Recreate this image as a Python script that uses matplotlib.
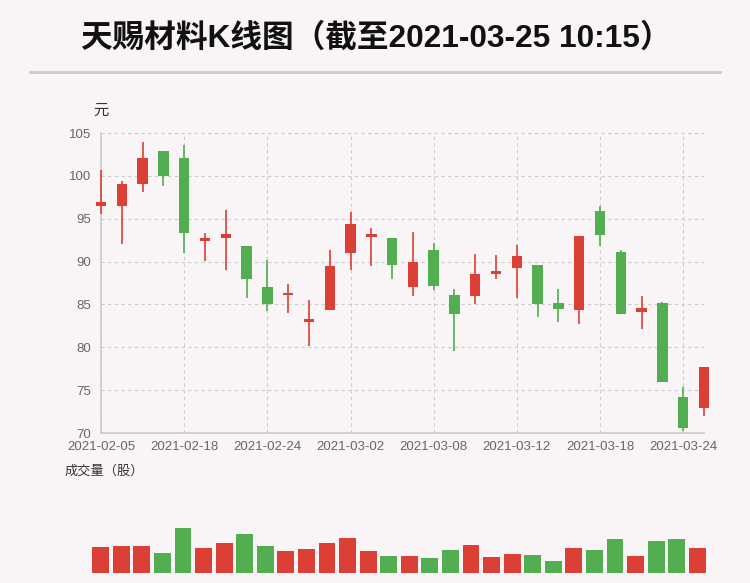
import matplotlib
matplotlib.use('Agg')
import matplotlib.pyplot as plt
import numpy as np

# trading days shown on the chart
dates = ['2021-02-05', '2021-02-08', '2021-02-09', '2021-02-10', '2021-02-18',
         '2021-02-19', '2021-02-22', '2021-02-23', '2021-02-24', '2021-02-25',
         '2021-02-26', '2021-03-01', '2021-03-02', '2021-03-03', '2021-03-04',
         '2021-03-05', '2021-03-08', '2021-03-09', '2021-03-10', '2021-03-11',
         '2021-03-12', '2021-03-15', '2021-03-16', '2021-03-17', '2021-03-18',
         '2021-03-19', '2021-03-22', '2021-03-23', '2021-03-24', '2021-03-25']

opens = [96.5, 96.5, 99.0, 102.9, 102.1, 92.45, 92.7, 91.8, 87.0, 86.05,
         83.0, 84.3, 91.0, 92.9, 92.7, 87.0, 91.3, 86.1, 86.0, 88.6,
         89.2, 89.6, 85.2, 84.4, 95.9, 91.1, 84.1, 85.2, 74.2, 72.9]
closes = [97.0, 99.1, 102.1, 100.0, 93.3, 92.8, 93.2, 88.0, 85.0, 86.3,
          83.25, 89.5, 94.4, 93.1, 89.65, 90.0, 87.2, 83.9, 88.6, 88.9,
          90.65, 85.0, 84.5, 93.0, 93.15, 83.9, 84.55, 76.0, 70.6, 77.75]
highs = [100.7, 99.35, 103.9, 102.9, 103.6, 93.35, 96.0, 91.8, 90.2, 87.4,
         85.5, 91.3, 95.8, 93.9, 92.7, 93.5, 92.2, 86.8, 90.9, 90.8,
         91.9, 89.6, 86.8, 93.0, 96.5, 91.4, 86.0, 85.25, 75.4, 77.75]
lows = [95.6, 92.0, 98.1, 98.8, 91.0, 90.1, 89.0, 85.7, 84.2, 84.0,
        80.1, 84.3, 89.0, 89.5, 88.0, 86.0, 86.7, 79.6, 85.0, 88.0,
        85.8, 83.5, 83.0, 82.75, 91.8, 83.9, 82.1, 76.0, 70.2, 72.0]

# volume, relative units
volumes = [78, 80, 80, 61, 134, 74, 89, 116, 80, 65,
           72, 89, 104, 65, 50, 50, 45, 70, 85, 47,
           56, 53, 37, 74, 70, 102, 52, 95, 102, 76]

red = '#dc3f35'
green = '#52ae50'
bg = '#f9f5f6'

plt.rcParams['font.family'] = ['Liberation Sans', 'Noto Sans CJK SC', 'DejaVu Sans']

fig = plt.figure(figsize=(7.5, 5.83), dpi=100, facecolor=bg)

# title and separator line
fig.text(376 / 750, 1 - 39 / 583, '天赐材料K线图（截至2021-03-25 10:15）',
         ha='center', va='center', fontsize=22.8, fontweight='bold', color='#111111')
fig.add_artist(plt.Line2D([30 / 750, 720 / 750], [1 - 72 / 583, 1 - 72 / 583],
                          color='#cccccc', lw=2, transform=fig.transFigure))

# candlestick panel
ax = fig.add_axes([101 / 750, 1 - 433 / 583, 603 / 750, 300 / 583])
ax.set_facecolor(bg)
x = np.arange(len(dates))
o = np.array(opens)
c = np.array(closes)
colors = [red if c[i] >= o[i] else green for i in range(len(x))]

ax.vlines(x, lows, highs, colors=colors, lw=1.2, zorder=3, clip_on=False)
body_low = np.minimum(o, c)
body_h = np.maximum(np.abs(c - o), 0.3)
ax.bar(x, body_h, bottom=body_low, width=0.5, color=colors, zorder=4, clip_on=False)

ax.set_xlim(0, len(dates) - 1)
ax.set_ylim(70, 105)
ax.set_yticks(np.arange(70, 106, 5))
ax.set_xticks(x[::4])
ax.set_xticklabels([dates[i] for i in range(0, len(dates), 4)])
ax.tick_params(axis='both', length=0, labelsize=9.5, colors='#666666')
ax.tick_params(axis='x', pad=6)
ax.tick_params(axis='y', pad=7)
ax.grid(True, color='#cccccc', linestyle=(0, (3, 3)), lw=0.8)
ax.set_axisbelow(True)
for side in ['top', 'right']:
    ax.spines[side].set_visible(False)
for side in ['left', 'bottom']:
    ax.spines[side].set_color('#cccccc')
    ax.spines[side].set_linewidth(1.2)

fig.text(101 / 750, 1 - 111 / 583, '元', ha='center', va='center',
         fontsize=11, color='#333333')
fig.text(65 / 750, 1 - 471 / 583, '成交量（股）', ha='left', va='center',
         fontsize=9.5, color='#333333')

# volume panel
vax = fig.add_axes([90.5 / 750, 1 - 573 / 583, 617 / 750, 88 / 583])
vax.set_facecolor(bg)
vax.bar(x, volumes, width=0.82, color=colors)
vax.set_xlim(-0.5, len(dates) - 0.5)
vax.set_ylim(0, 264)
vax.axis('off')

fig.savefig('out.png', dpi=100, facecolor=bg)
